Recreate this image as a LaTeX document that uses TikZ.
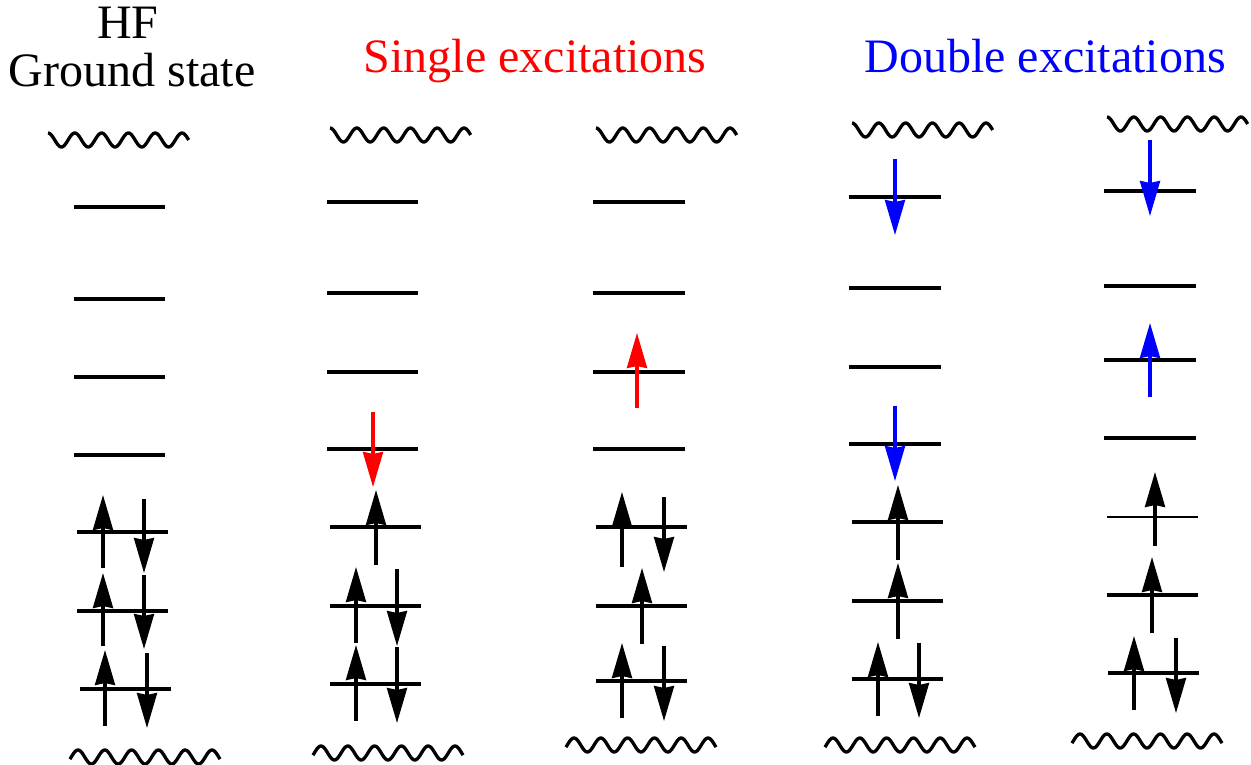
\documentclass[tikz,border=0pt]{standalone}
\usepackage{fontspec}
\setmainfont{Liberation Serif}
\newfontfamily\titlefont{Liberation Serif}
\usetikzlibrary{arrows.meta}
\tikzset{
  lvl/.style={line width=3.2pt},
  thinlvl/.style={line width=2pt},
  wave/.style={line width=3.3pt},
  spin/.style={line width=3.2pt, -{Stealth[length=35pt,width=20pt,inset=2pt]}},
  title/.style={anchor=base, inner sep=0pt, font=\titlefont\fontsize{48}{48}\selectfont},
}
\newcommand\wavy[4]{\draw[wave] plot[domain=#3:#4, samples=140, smooth, variable=\t] ({#1+\t*26.8},{#2-7*cos(360*\t)});}
\begin{document}
\begin{tikzpicture}[x=1pt,y=-1pt]
\useasboundingbox (0,0) rectangle (1251,765);
% titles
\node[title] (hf) at (128,39) {HF};
\node[title] (gs) at (132,87) {Ground state};
\node[title, text={rgb,255:red,255;green,0;blue,0}] (se) at (535,73) {Single excitations};
\node[title, text={rgb,255:red,0;green,0;blue,255}] (de) at (1045,73) {Double excitations};
\colorlet{exred}{red}
\colorlet{exblue}{blue}
% ---------- column 1 ----------
\wavy{48}{140}{0}{5.25}
\foreach \y in {207,299,377,455} \draw[lvl] (74,\y) -- (165,\y);
\draw[lvl] (77,532) -- (168,532);
\draw[lvl] (77,611) -- (168,611);
\draw[lvl] (80,689) -- (171,689);
\draw[spin] (103,568) -- (103,495);
\draw[spin] (103,646) -- (103,573);
\draw[spin] (105,726) -- (105,650);
\draw[spin] (144,499) -- (144,573);
\draw[spin] (144,575) -- (144,649);
\draw[spin] (147,653) -- (147,728);
\wavy{78}{757}{-0.3}{5.3}
% ---------- column 2 ----------
\wavy{330}{135}{0}{5.25}
\foreach \y in {202,293,372,449} \draw[lvl] (327,\y) -- (418,\y);
\draw[spin, exred] (373,412) -- (373,487);
\foreach \y in {527,606,684} \draw[lvl] (330,\y) -- (421,\y);
\draw[spin] (376,565) -- (376,490);
\draw[spin] (356,643) -- (356,567);
\draw[spin] (356,721) -- (356,645);
\draw[spin] (397,569) -- (397,646);
\draw[spin] (397,647) -- (397,723);
\wavy{321}{753}{-0.3}{5.3}
% ---------- column 3 ----------
\wavy{596}{135}{0}{5.25}
\foreach \y in {202,293,372,449} \draw[lvl] (593,\y) -- (685,\y);
\draw[spin, exred] (637,408) -- (637,333);
\foreach \y in {527,606,681} \draw[lvl] (596,\y) -- (687,\y);
\draw[spin] (622,567) -- (622,492);
\draw[spin] (664,497) -- (664,572);
\draw[spin] (642,644) -- (642,568);
\draw[spin] (622,718) -- (622,643);
\draw[spin] (664,646) -- (664,721);
\wavy{574}{745}{-0.3}{5.3}
% ---------- column 4 ----------
\wavy{852}{130}{0}{5.25}
\foreach \y in {197,288,367,444} \draw[lvl] (849,\y) -- (941,\y);
\draw[spin, exblue] (895,159) -- (895,235);
\draw[spin, exblue] (895,406) -- (895,481);
\foreach \y in {522,601,679} \draw[lvl] (852,\y) -- (943,\y);
\draw[spin] (898,560) -- (898,485);
\draw[spin] (898,639) -- (898,563);
\draw[spin] (878,716) -- (878,642);
\draw[spin] (919,643) -- (919,718);
\wavy{833}{745}{-0.3}{5.3}
% ---------- column 5 ----------
\wavy{1107}{124}{0}{5.25}
\foreach \y in {191,286,360,438} \draw[lvl] (1104,\y) -- (1196,\y);
\draw[spin, exblue] (1150,140) -- (1150,216);
\draw[spin, exblue] (1150,397) -- (1150,323);
\draw[thinlvl] (1107,517) -- (1198,517);
\draw[lvl] (1107,595) -- (1198,595);
\draw[lvl] (1108,673) -- (1199,673);
\draw[spin] (1155,546) -- (1155,472);
\draw[spin] (1152,633) -- (1152,557);
\draw[spin] (1134,710) -- (1134,636);
\draw[spin] (1176,638) -- (1176,713);
\wavy{1080}{741}{-0.3}{5.3}
\end{tikzpicture}
\end{document}
